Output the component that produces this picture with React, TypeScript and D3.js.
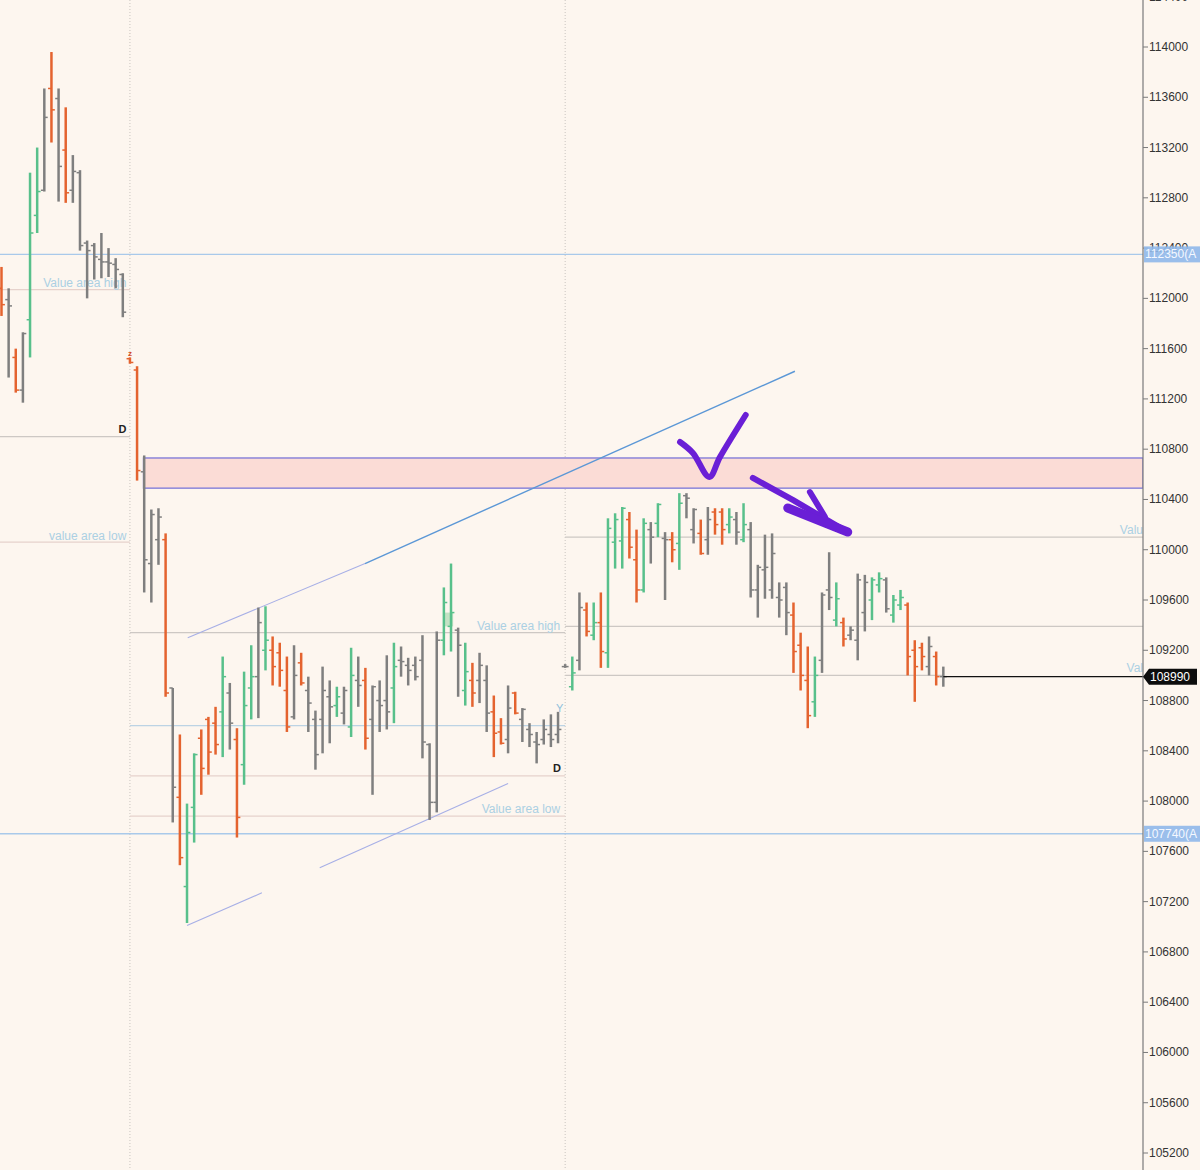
import React from 'react';
import * as d3 from 'd3';

// ---------- DATA ----------
const priceTicks = d3.range(105200, 114401, 400);

const highs = [
  112250, 112080, 111600, 111730, 113000, 113200, 113670, 113960, 113670, 113520,
  113140, 113020, 112460, 112440, 112520, 112400, 112320, 112200, 111530, 111460,
  110750, 110320, 110330, 110130, 108900, 108530, 107980, 108380, 108570, 108670,
  108750, 109150, 108940, 108580, 109030, 109240, 109540, 109550, 109310, 109260,
  109150, 109240, 109180, 108990, 108720, 109070, 108960, 108910, 108910, 109220,
  109150, 109060, 108920, 108960, 109160, 109260, 109230, 109140, 109150, 109320,
  108460, 109350, 109700, 109890, 109380, 109260, 109100, 109180, 109080, 108840,
  108660, 108920, 108870, 108740, 108620, 108550, 108650, 108690, 108710, 109090,
  109150, 109660, 109580, 109580, 109660, 110250, 110290, 110340, 110300, 110160,
  110250, 110220, 110370, 110140, 110140, 110450, 110450, 110330, 110240, 110340,
  110330, 110330, 110330, 110300, 110370, 110220, 109880, 110120, 110130, 109740,
  109740, 109580, 109340, 109230, 109150, 109660, 109980, 109740, 109460, 109390,
  109810, 109800, 109780, 109820, 109780, 109640, 109680, 109580, 109280, 109260,
  109310, 109190, 109070,
];

const lows = [
  111860, 111370, 111250, 111170, 111530, 112520, 112850, 113240, 112770, 112760,
  112760, 112380, 112000, 112150, 112160, 112170, 112080, 111850, 111480, 110550,
  109660, 109580, 109880, 108830, 107830, 107490, 107030, 107670, 108050, 108210,
  108370, 108350, 108410, 107710, 108130, 108650, 108660, 109040, 108920, 108910,
  108550, 108650, 108920, 108550, 108250, 108380, 108460, 108670, 108610, 108510,
  108750, 108410, 108050, 108550, 108570, 108620, 108990, 108920, 108960, 108340,
  107850, 107910, 109160, 109190, 108830, 108760, 108750, 108780, 108550, 108350,
  108450, 108380, 108690, 108470, 108430, 108300, 108450, 108430, 108460, 109060,
  108880, 109040, 109310, 109280, 109060, 109060, 109850, 109850, 109930, 109580,
  109660, 109890, 110100, 109600, 109900, 109840, 110250, 110050, 109960, 109960,
  110120, 110040, 110130, 110040, 110060, 109620, 109460, 109610, 109610, 109460,
  109320, 109020, 108880, 108580, 108670, 109020, 109520, 109390, 109230, 109280,
  109120, 109350, 109440, 109660, 109500, 109420, 109520, 109000, 108790, 109040,
  109000, 108920, 108910,
];

const opens = [
  112080, 111990, 111530, 111270, 111830, 112660, 112860, 113670, 113590, 113180,
  112860, 113000, 112440, 112420, 112310, 112290, 112270, 112190, 111520, 111430,
  110620, 109890, 110080, 110080, 108900, 108030, 107320, 107950, 108500, 108650,
  108620, 108710, 108860, 108490, 108290, 108900, 108990, 109200, 109200, 109180,
  108880, 108670, 109100, 108880, 108650, 108650, 108830, 108760, 108700, 108590,
  108960, 108960, 108650, 108800, 108800, 108900, 109120, 109080, 109080, 109120,
  108450, 107990, 109280, 109390, 109360, 108880, 108960, 108960, 108960, 108710,
  108550, 108490, 108860, 108650, 108570, 108470, 108490, 108530, 108530, 109070,
  108910, 109120, 109520, 109320, 109420, 109180, 110060, 110070, 110240, 109920,
  109680, 110160, 110210, 110090, 110080, 110050, 110430, 110160, 110130, 110080,
  110300, 110300, 110200, 110240, 110080, 110160, 109680, 109840, 109680, 109620,
  109700, 109480, 109240, 108960, 108790, 109120, 109680, 109440, 109420, 109320,
  109280, 109500, 109600, 109720, 109760, 109480, 109560, 109560, 109200, 109220,
  109070, 109150, 108990,
];

const closes = [
  111950, 111940, 111270, 111720, 112520, 112850, 113440, 113500, 113050, 112840,
  113010, 112420, 112380, 112330, 112290, 112280, 112230, 111890, 111490, 110630,
  109920, 110280, 110260, 108860, 108110, 107550, 107750, 108370, 108260, 108390,
  108450, 108990, 108620, 107870, 108760, 108990, 109420, 109280, 109070, 109040,
  108590, 109000, 108940, 108780, 108370, 108880, 108750, 108830, 108880, 109000,
  108920, 108500, 108910, 108760, 108710, 109070, 109110, 109040, 108990, 108470,
  107990, 109280, 109580, 109500, 109240, 109030, 108860, 109080, 108700, 108540,
  108460, 108740, 108700, 108730, 108530, 108450, 108570, 108490, 108570, 109070,
  109020, 109540, 109350, 109420, 109190, 110170, 110240, 110330, 110020, 109680,
  110210, 110100, 110360, 110080, 110000, 110370, 110410, 110320, 109970, 110240,
  110200, 110160, 110260, 110140, 110200, 109680, 109860, 109860, 109970, 109600,
  109500, 109190, 109000, 108680, 109000, 109640, 109620, 109610, 109290, 109360,
  109760, 109740, 109760, 109770, 109530, 109600, 109620, 109150, 109070, 109150,
  109230, 108990, 108990,
];

// o = orange (down), g = green (up), n = gray (neutral)
const barColors = (
  'ononggnono' + 'nnnnnnnnoo' + 'nnnonoggoo' + 'ognoggngoo' + 'ononnnngng' +
  'nonnngnnnn' + 'nnggngonno' + 'ononnnnnnn' + 'gnogogggoo' + 'gngnognnon' +
  'oogngnnnnn' + 'nooognngon' + 'nnggnggooo' + 'non'
).split('');

// session start bars (session separators)
const sessionStarts = [18, 79];

// horizontal levels per session
const sessionLevels = [
  { from: -1, to: 18, price: 112070, kind: 'pink' },
  { from: -1, to: 18, price: 110900, kind: 'gray' },
  { from: -1, to: 18, price: 110060, kind: 'pink' },
  { from: 18, to: 79, price: 109340, kind: 'gray' },
  { from: 18, to: 79, price: 108600, kind: 'blue' },
  { from: 18, to: 79, price: 108200, kind: 'pink' },
  { from: 18, to: 79, price: 107880, kind: 'pink' },
  { from: 79, to: null, price: 110100, kind: 'gray' },
  { from: 79, to: null, price: 109390, kind: 'gray' },
  { from: 79, to: 132, price: 109000, kind: 'gray' },
];

const vaLabels = [
  { text: 'Value area high', endBar: 17.5, price: 112120 },
  { text: 'value area low', endBar: 17.5, price: 110110 },
  { text: 'Value area high', endBar: 78.3, price: 109390 },
  { text: 'Value area low', endBar: 78.3, price: 107940 },
];
// labels of the running session, cut off by the price axis
const clippedLabels = [
  { text: 'Valu', price: 110160 },
  { text: 'Val', price: 109060 },
];

const keyLevels = [
  { price: 112350, label: '112350(A' },
  { price: 107740, label: '107740(A' },
];
const lastPrice = 108990;

const zoneTop = 110730;
const zoneBottom = 110490;
const zoneStartBar = 19.9;

const trendLines = [
  { i0: 26.1, p0: 109300, i1: 50.95, p1: 109890, tone: 'light' },
  { i0: 50.95, p0: 109890, i1: 111.2, p1: 111420, tone: 'dark' },
  { i0: 26.0, p0: 107010, i1: 36.5, p1: 107270, tone: 'light' },
  { i0: 44.6, p0: 107470, i1: 71.0, p1: 108140, tone: 'light' },
];

// hand-drawn purple annotations, in (bar, price)
const checkMark: [number, number][] = [
  [95.1, 110857], [96.9, 110770], [99.2, 110579], [100.7, 110738], [104.3, 111072],
];
const arrowShaft: [number, number][] = [[105.3, 110571], [110.9, 110396], [118.6, 110141]];
const arrowHeadLow: [number, number][] = [[110.2, 110332], [118.6, 110141]];
const arrowHeadHigh: [number, number][] = [[113.3, 110459], [115.4, 110262]];

// ---------- STYLE ----------
const W = 1200;
const H = 1170;
const AXIS_X = 1143;
const BG = '#fdf6ef';
const COLORS: Record<string, string> = { o: '#e4632f', g: '#58c08b', n: '#7f7f7f' };
const LEVEL_COLORS: Record<string, string> = { pink: '#e6d2cc', gray: '#cdc8c4', blue: '#bcd3e4' };
const FONT = '"Liberation Sans", Arial, sans-serif';

export default function App() {
  const x = d3.scaleLinear().domain([0, 132]).range([1.5, 1.5 + 132 * 7.135]);
  const y = d3.scaleLinear().domain([105200, 114000]).range([1153, 47]);
  const line = d3.line<[number, number]>().x((d) => x(d[0])).y((d) => y(d[1]));
  const curve = d3
    .line<[number, number]>()
    .x((d) => x(d[0]))
    .y((d) => y(d[1]))
    .curve(d3.curveCatmullRom.alpha(0.5));

  const bars = highs.map((h, i) => ({
    i,
    h,
    l: lows[i],
    o: opens[i],
    c: closes[i],
    col: COLORS[barColors[i]] || COLORS.n,
  }));

  const lvlX0 = (from: number) => (from < 0 ? 0 : x(from));
  const lvlX1 = (to: number | null) => (to === null ? AXIS_X : x(to));

  return (
    <svg
      width={W}
      height={H}
      style={{ position: 'absolute', left: 0, top: 0, display: 'block' }}
      xmlns="http://www.w3.org/2000/svg"
    >
      <defs>
        <clipPath id="plotClip">
          <rect x={0} y={0} width={AXIS_X} height={H} />
        </clipPath>
      </defs>
      <rect x={0} y={0} width={W} height={H} fill={BG} />

      <g clipPath="url(#plotClip)">
        {sessionStarts.map((s) => (
          <line
            key={s}
            x1={x(s)}
            x2={x(s)}
            y1={0}
            y2={H}
            stroke="#c9c4bf"
            strokeWidth={1}
            strokeDasharray="1,2"
          />
        ))}

        {sessionLevels.map((lv, k) => (
          <line
            key={k}
            x1={lvlX0(lv.from)}
            x2={lvlX1(lv.to)}
            y1={y(lv.price)}
            y2={y(lv.price)}
            stroke={LEVEL_COLORS[lv.kind]}
            strokeWidth={1.2}
          />
        ))}

        {keyLevels.map((kl) => (
          <line
            key={kl.price}
            x1={0}
            x2={AXIS_X}
            y1={y(kl.price)}
            y2={y(kl.price)}
            stroke="#a9c9ea"
            strokeWidth={1.3}
          />
        ))}

        {vaLabels.map((v, k) => (
          <text
            key={k}
            x={x(v.endBar)}
            y={y(v.price)}
            textAnchor="end"
            dominantBaseline="central"
            fontFamily={FONT}
            fontSize={12}
            fill="#abd0e3"
          >
            {v.text}
          </text>
        ))}
        {clippedLabels.map((v, k) => (
          <text
            key={k}
            x={AXIS_X}
            y={y(v.price)}
            textAnchor="end"
            dominantBaseline="central"
            fontFamily={FONT}
            fontSize={12}
            fill="#abd0e3"
          >
            {v.text}
          </text>
        ))}

        <rect
          x={x(zoneStartBar)}
          y={y(zoneTop)}
          width={AXIS_X - x(zoneStartBar)}
          height={y(zoneBottom) - y(zoneTop)}
          fill="#fbdcd6"
          stroke="#7a76d8"
          strokeWidth={1.3}
        />

        <rect
          x={x(62.1)}
          y={y(109500)}
          width={x(63.3) - x(62.1)}
          height={y(109390) - y(109500)}
          fill="#9fd6a6"
          opacity={0.6}
        />

        {trendLines.map((t, k) => (
          <path
            key={k}
            d={line([
              [t.i0, t.p0],
              [t.i1, t.p1],
            ]) as string}
            stroke={t.tone === 'dark' ? '#5b97d6' : '#a7afe6'}
            strokeWidth={t.tone === 'dark' ? 1.4 : 1.1}
            fill="none"
          />
        ))}

        {bars.map((b) => {
          const cx = x(b.i);
          return (
            <g key={b.i} stroke={b.col}>
              <line x1={cx} x2={cx} y1={y(b.h)} y2={y(b.l)} strokeWidth={2.5} />
              <line x1={cx - 3.4} x2={cx} y1={y(b.o)} y2={y(b.o)} strokeWidth={1.5} />
              <line x1={cx} x2={cx + 3.4} y1={y(b.c)} y2={y(b.c)} strokeWidth={1.5} />
            </g>
          );
        })}

        <text x={x(16.4)} y={y(110900) - 4} fontFamily={FONT} fontSize={11} fontWeight="bold" fill="#222">
          D
        </text>
        <text x={x(77.3)} y={y(108200) - 4} fontFamily={FONT} fontSize={11} fontWeight="bold" fill="#222">
          D
        </text>
        <text x={x(18) - 2} y={y(111530) - 1} fontFamily={FONT} fontSize={8} fontWeight="bold" fill="#d24a1c">
          z
        </text>
        <text x={x(78) - 2} y={y(108740) + 4} fontFamily={FONT} fontSize={11} fill="#8fc0dc">
          Y
        </text>

        <line
          x1={x(132)}
          x2={AXIS_X}
          y1={y(lastPrice)}
          y2={y(lastPrice)}
          stroke="#111"
          strokeWidth={1.3}
        />

        <g stroke="#6a1fd6" strokeWidth={6} strokeLinecap="round" strokeLinejoin="round" fill="none">
          <path d={curve(checkMark) as string} />
          <path d={line(arrowShaft) as string} />
          <path d={line(arrowHeadLow) as string} strokeWidth={9} />
          <path d={line(arrowHeadHigh) as string} />
        </g>
      </g>

      <line x1={AXIS_X} x2={AXIS_X} y1={0} y2={H} stroke="#7a7a7a" strokeWidth={1.2} />
      {priceTicks.map((p) => (
        <g key={p}>
          <line x1={AXIS_X} x2={AXIS_X + 5} y1={y(p)} y2={y(p)} stroke="#7a7a7a" strokeWidth={1} />
          <text
            x={AXIS_X + 6}
            y={y(p)}
            dominantBaseline="central"
            fontFamily={FONT}
            fontSize={12}
            fill="#333"
          >
            {p}
          </text>
        </g>
      ))}

      {keyLevels.map((kl) => (
        <g key={kl.price}>
          <rect x={AXIS_X + 1} y={y(kl.price) - 8} width={W - AXIS_X} height={16} fill="#8fb8ea" opacity={0.9} />
          <text
            x={AXIS_X + 2}
            y={y(kl.price)}
            dominantBaseline="central"
            fontFamily={FONT}
            fontSize={12}
            fill="#f4f8ff"
          >
            {kl.label}
          </text>
        </g>
      ))}

      <path
        d={`M${AXIS_X},${y(lastPrice)} L${AXIS_X + 6},${y(lastPrice) - 8} L${AXIS_X + 54},${y(lastPrice) - 8} L${AXIS_X + 54},${y(lastPrice) + 8} L${AXIS_X + 6},${y(lastPrice) + 8} Z`}
        fill="#0d0d0d"
      />
      <text
        x={AXIS_X + 7}
        y={y(lastPrice)}
        dominantBaseline="central"
        fontFamily={FONT}
        fontSize={12}
        fill="#fff"
      >
        {lastPrice}
      </text>
    </svg>
  );
}
